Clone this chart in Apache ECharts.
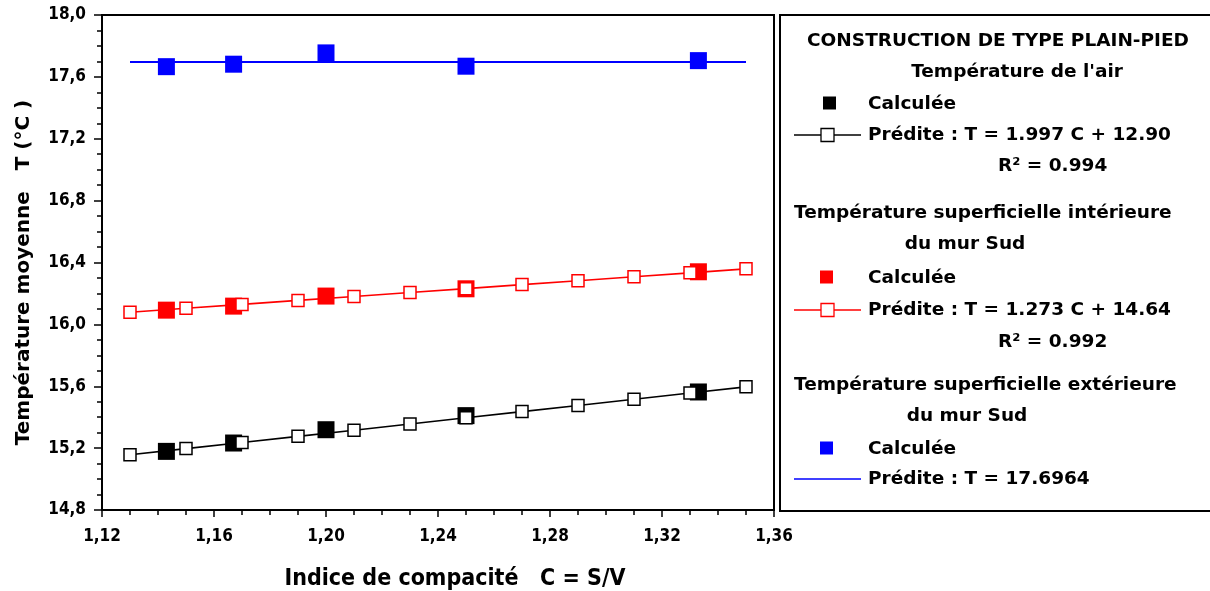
<!DOCTYPE html>
<html>
<head>
<meta charset="utf-8">
<script src="https://cdn.jsdelivr.net/npm/echarts@6/dist/echarts.min.js"></script>
<style>
  html, body { margin: 0; padding: 0; background: #fff; }
  #chart { width: 1210px; height: 591px; }
</style>
</head>
<body>
<div id="chart"></div>
<script>
// Compactness index C = S/V of the simulated buildings
const calcC = [1.143, 1.167, 1.2, 1.25, 1.333];
// Computed mean temperatures (°C)
const airCalc = [15.179, 15.233, 15.319, 15.41, 15.563];
const wallInCalc = [16.092, 16.118, 16.183, 16.23, 16.34];
const wallOutCalc = [17.666, 17.682, 17.755, 17.669, 17.705];

// Points of the fitted relations
const predC = [1.13, 1.15, 1.17, 1.19, 1.21, 1.23, 1.25, 1.27, 1.29, 1.31, 1.33, 1.35];
const airPred = [15.157, 15.197, 15.236, 15.276, 15.316, 15.356, 15.396, 15.436, 15.476, 15.516, 15.556, 15.596];
const wallInPred = [16.078, 16.104, 16.129, 16.155, 16.180, 16.206, 16.231, 16.257, 16.282, 16.308, 16.333, 16.359];
const wallOutLineC = [1.13, 1.35];
const wallOutPred = [17.6964, 17.6964];

// Axis ranges
const xRange = [1.12, 1.36, 0.04];
const yRange = [14.8, 18.0, 0.4];

// Legend texts
const legendTitle = 'CONSTRUCTION DE TYPE PLAIN-PIED';
const groupAir = "Température de l'air";
const groupIn = ['Température superficielle intérieure', 'du mur Sud'];
const groupOut = ['Température superficielle extérieure', 'du mur Sud'];
const calcLabel = 'Calculée';
const airFit = ['Prédite : T = 1.997 C + 12.90', 'R² = 0.994'];
const inFit = ['Prédite : T = 1.273 C + 14.64', 'R² = 0.992'];
const outFit = 'Prédite : T = 17.6964';

const BLACK = '#000000', RED = '#ff0000', BLUE = '#0000ff';
const legendFont = '"DejaVu Sans", sans-serif';
const tickFont = '"DejaVu Sans Condensed", "Liberation Sans Narrow", sans-serif';
const LEG = 18.5;

const zip = (xs, ys) => xs.map((x, i) => [x, ys[i]]);

function calcSeries(ys, color) {
  return {
    type: 'scatter', data: zip(calcC, ys), symbol: 'rect', symbolSize: 17,
    itemStyle: { color: color, opacity: 1 }, z: 2
  };
}
function predSeries(ys, color) {
  return {
    type: 'line', data: zip(predC, ys), symbol: 'rect', symbolSize: 12,
    showSymbol: true,
    itemStyle: { color: '#ffffff', borderColor: color, borderWidth: 1.5, opacity: 1 },
    lineStyle: { color: color, width: 1.6 }, z: 3
  };
}

// Legend panel: texts and keys
function txt(x, y, s, align) {
  return {
    type: 'text', x: x, y: y,
    style: {
      text: s, fill: '#000', font: 'bold ' + LEG + 'px ' + legendFont,
      textAlign: align || 'left', textVerticalAlign: 'middle'
    }
  };
}
function squareKey(cx, cy, color) {
  return { type: 'rect', shape: { x: cx - 7, y: cy - 6.5, width: 13, height: 13 }, style: { fill: color } };
}
function lineKey(y, color, withBox) {
  const els = [{ type: 'line', shape: { x1: 794, y1: y, x2: 861, y2: y }, style: { stroke: color, lineWidth: 1.6 } }];
  if (withBox) {
    els.push({ type: 'rect', shape: { x: 821, y: y - 6.5, width: 13, height: 13 },
      style: { fill: '#fff', stroke: color, lineWidth: 1.3 } });
  }
  return els;
}

const legendEls = [
  { type: 'rect', shape: { x: 780, y: 15, width: 440, height: 496 }, style: { fill: 'none', stroke: '#000', lineWidth: 2 } },
  txt(998, 41, legendTitle, 'center'),
  txt(1017, 72, groupAir, 'center'),
  squareKey(830, 103, BLACK),
  txt(868, 104, calcLabel),
  ...lineKey(135, BLACK, true),
  txt(868, 135, airFit[0]),
  txt(998, 166, airFit[1]),
  txt(794, 213, groupIn[0]),
  txt(965, 244, groupIn[1], 'center'),
  squareKey(827, 277, RED),
  txt(868, 278, calcLabel),
  ...lineKey(310, RED, true),
  txt(868, 310, inFit[0]),
  txt(998, 342, inFit[1]),
  txt(794, 385, groupOut[0]),
  txt(967, 416, groupOut[1], 'center'),
  squareKey(827, 448, BLUE),
  txt(868, 449, calcLabel),
  ...lineKey(479, BLUE, false),
  txt(868, 479, outFit)
];

const chart = echarts.init(document.getElementById('chart'), null, { renderer: 'canvas' });
chart.setOption({
  animation: false,
  backgroundColor: '#ffffff',
  grid: {
    left: 102, top: 15, right: 436, bottom: 81, containLabel: false, outerBoundsMode: 'none',
    show: true, borderColor: '#000', borderWidth: 2, backgroundColor: 'transparent'
  },
  xAxis: {
    type: 'value', min: xRange[0], max: xRange[1], interval: xRange[2],
    name: 'Indice de compacité   C = S/V', nameLocation: 'middle', nameGap: 58,
    nameTextStyle: { fontFamily: tickFont, fontWeight: 'bold', fontSize: 23, color: '#000', padding: [0, 0, 0, 34] },
    axisLine: { lineStyle: { color: '#000', width: 2 } },
    axisTick: { inside: false, length: 7, lineStyle: { color: '#000', width: 1.5 } },
    minorTick: { show: true, splitNumber: 4, length: 5, lineStyle: { color: '#000', width: 1.5 } },
    splitLine: { show: false },
    axisLabel: {
      margin: 18, color: '#000', fontFamily: tickFont, fontWeight: 'bold', fontSize: 17,
      formatter: v => v.toFixed(2).replace('.', ',')
    }
  },
  yAxis: {
    type: 'value', min: yRange[0], max: yRange[1], interval: yRange[2],
    name: 'Température moyenne   T (°C )', nameLocation: 'middle', nameGap: 68, nameRotate: 90,
    nameTextStyle: { fontFamily: legendFont, fontWeight: 'bold', fontSize: 20, color: '#000', padding: [0, 20, 0, 0] },
    axisLine: { lineStyle: { color: '#000', width: 2 } },
    axisTick: { inside: false, length: 8, lineStyle: { color: '#000', width: 1.5 } },
    minorTick: { show: true, splitNumber: 4, length: 5, lineStyle: { color: '#000', width: 1.5 } },
    splitLine: { show: false },
    axisLabel: {
      margin: 16, color: '#000', fontFamily: tickFont, fontWeight: 'bold', fontSize: 17,
      formatter: v => v.toFixed(1).replace('.', ',')
    }
  },
  series: [
    calcSeries(airCalc, BLACK),
    predSeries(airPred, BLACK),
    calcSeries(wallInCalc, RED),
    predSeries(wallInPred, RED),
    calcSeries(wallOutCalc, BLUE),
    {
      type: 'line', data: zip(wallOutLineC, wallOutPred), showSymbol: false, symbol: 'none',
      lineStyle: { color: BLUE, width: 2 }, z: 1
    }
  ],
  graphic: { elements: legendEls }
});
</script>
</body>
</html>
